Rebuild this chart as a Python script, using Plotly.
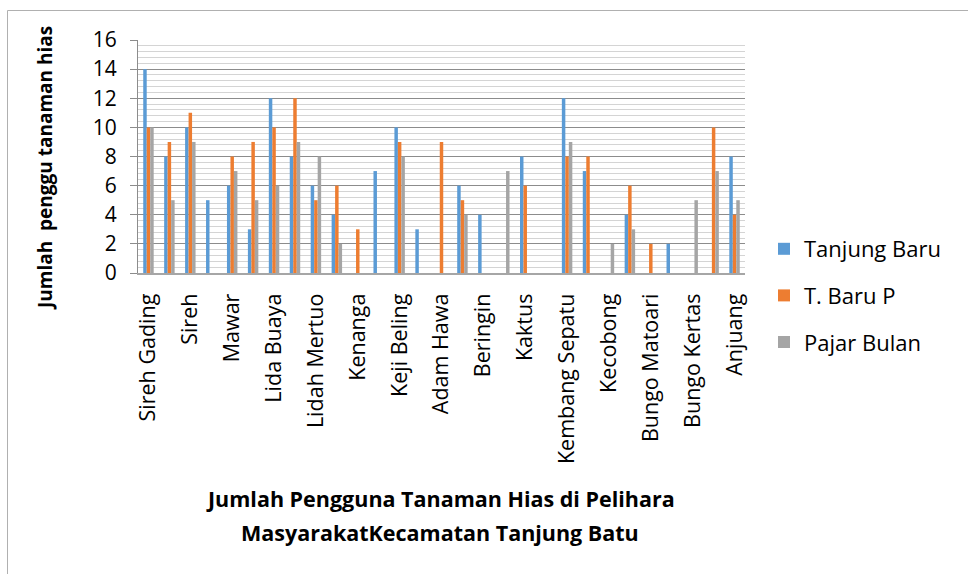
import plotly.graph_objects as go

# ---- data ----
tick_labels = ["Sireh Gading", "Sireh", "Mawar", "Lida Buaya", "Lidah Mertuo",
               "Kenanga", "Keji Beling", "Adam Hawa", "Beringin", "Kaktus",
               "Kembang Sepatu", "Kecobong", "Bungo Matoari", "Bungo Kertas", "Anjuang"]
positions = list(range(29))          # 29 plant categories, every other one labelled
tick_positions = positions[::2]

tanjung_baru = [14, 8, 10, 5, 6, 3, 12, 8, 6, 4, 0, 7, 10, 3, 0, 6, 4, 0, 8, 0, 12, 7, 0, 4, 0, 2, 0, 0, 8]
t_baru_p     = [10, 9, 11, 0, 8, 9, 10, 12, 5, 6, 3, 0, 9, 0, 9, 5, 0, 0, 6, 0, 8, 8, 0, 6, 2, 0, 0, 10, 4]
pajar_bulan  = [10, 5, 9, 0, 7, 5, 6, 9, 8, 2, 0, 0, 8, 0, 0, 4, 0, 7, 0, 0, 9, 0, 2, 3, 0, 0, 5, 7, 5]

series = [("Tanjung Baru", tanjung_baru, "#5B9BD5"),
          ("T. Baru P", t_baru_p, "#ED7D31"),
          ("Pajar Bulan", pajar_bulan, "#A5A5A5")]

FONT = "Open Sans"

fig = go.Figure()
for i, (name, vals, col) in enumerate(series):
    fig.add_trace(go.Bar(x=positions, y=vals, name=name, marker_color=col,
                         marker_line_width=0, legendgroup=f"g{i}"))

W, H = 968, 574
L, R, T, B = 138, 745, 40, 273

def px(x):
    return (x - L) / (R - L)

def py(y):
    return (B - y) / (B - T)

fig.update_layout(
    width=W, height=H,
    margin=dict(l=L, r=W - R, t=T, b=H - B, autoexpand=False),
    paper_bgcolor="white", plot_bgcolor="white",
    barmode="group", bargap=0.5, bargroupgap=0,
    font=dict(family=FONT, color="#000000", size=21),
    showlegend=True,
    legend=dict(x=px(764), y=py(228), xanchor="left", yanchor="top",
                font=dict(size=22, family=FONT), tracegroupgap=15,
                bgcolor="rgba(0,0,0,0)", itemwidth=30),
    xaxis=dict(range=[-0.5, 28.5], tickmode="array", tickvals=tick_positions,
               ticktext=tick_labels, tickangle=-90, showgrid=False,
               showline=True, linecolor="#A6A6A6", linewidth=2,
               ticks="", tickfont=dict(size=21.5, family=FONT), zeroline=False,
               ticklabelstandoff=10),
    yaxis=dict(range=[0, 16], dtick=2, tick0=0, showgrid=True, gridcolor="#8C8C8C",
               gridwidth=1, showline=True, linecolor="#8C8C8C", linewidth=1,
               ticks="outside", ticklen=7, tickcolor="#8C8C8C",
               tickfont=dict(size=21, family=FONT), zeroline=False,
               ticklabelstandoff=9,
               minor=dict(dtick=0.4, tick0=0, showgrid=True, gridcolor="#D4D4D4",
                          gridwidth=1, ticks="")),
)

# axis titles
fig.add_annotation(text="<b>Jumlah  penggu tanaman hias</b>", textangle=-90,
                   xref="paper", yref="paper", x=px(45), y=py(168),
                   xanchor="center", yanchor="middle",
                   showarrow=False, font=dict(size=19, family=FONT))
fig.add_annotation(text="<b>Jumlah Pengguna Tanaman Hias di Pelihara</b>",
                   xref="paper", yref="paper", x=px(440), y=py(498),
                   xanchor="center", yanchor="middle",
                   showarrow=False, font=dict(size=21.5, family=FONT))
fig.add_annotation(text="<b>MasyarakatKecamatan Tanjung Batu</b>",
                   xref="paper", yref="paper", x=px(440), y=py(532),
                   xanchor="center", yanchor="middle",
                   showarrow=False, font=dict(size=21.5, family=FONT))

# outer chart border
fig.add_shape(type="line", xref="paper", yref="paper", x0=px(7.5), x1=px(7.5),
              y0=py(10.5), y1=py(600), line=dict(color="#B0B0B0", width=1))
fig.add_shape(type="line", xref="paper", yref="paper", x0=px(7.5), x1=px(1000),
              y0=py(10.5), y1=py(10.5), line=dict(color="#B0B0B0", width=1))

fig.write_html("out.html", config={"displayModeBar": False},
               post_script="document.body.style.margin='0';document.body.style.overflow='hidden';")
